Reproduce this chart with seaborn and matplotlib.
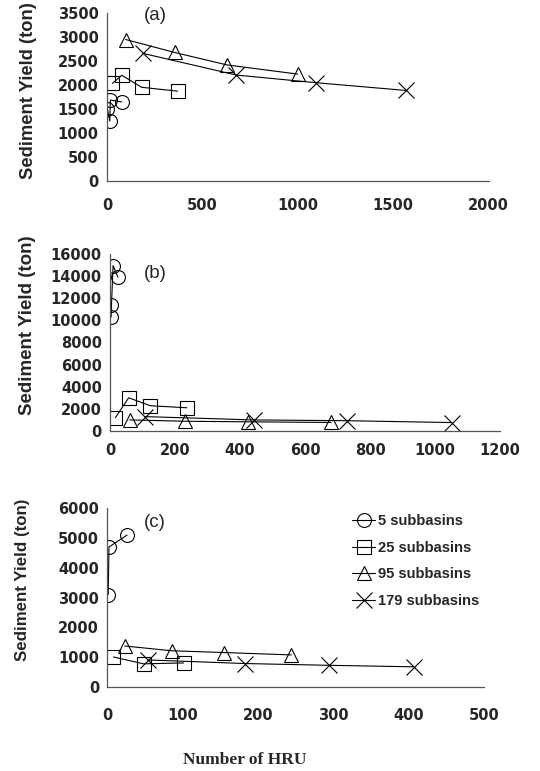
import matplotlib
matplotlib.use('Agg')
import matplotlib.pyplot as plt
import seaborn as sns

sns.set_style('white')
plt.rcParams['font.family'] = ['Liberation Sans', 'DejaVu Sans']

# Series names
series_names = ['5 subbasins', '25 subbasins', '95 subbasins', '179 subbasins']
markers = ['o', 's', '^', 'x']

# Panel (a)
a_x = [[3, 15, 18, 78], [28, 78, 182, 370], [98, 355, 630, 1000], [190, 678, 1097, 1565]]
a_y = [[1500, 1250, 1690, 1650], [2035, 2205, 1955, 1875], [2950, 2680, 2420, 2230], [2660, 2210, 2050, 1890]]

# Panel (b)
b_x = [[3, 4, 9, 24], [16, 57, 124, 236], [60, 231, 423, 680], [106, 442, 729, 1051]]
b_y = [[10300, 11400, 14950, 13900], [1200, 3000, 2280, 2100], [1000, 880, 830, 770], [1300, 1000, 930, 760]]

# Panel (c)
c_x = [[1, 2, 26], [8, 48, 101], [23, 85, 154, 244], [54, 183, 294, 406]]
c_y = [[3100, 4700, 5100], [1000, 770, 800], [1370, 1210, 1150, 1070], [900, 780, 720, 670]]

# label, x, y, axes rect, xmax, xstep, ymax, ystep, panel-label pos, ylabel size, xtick pad, ylabel coords
panels = [
    ('(a)', a_x, a_y, [0.198, 0.765, 0.707, 0.218], 2000, 500, 3500, 500, (0.097, 0.985), 13.2, 8, (-0.182, 0.542)),
    ('(b)', b_x, b_y, [0.204, 0.441, 0.722, 0.2296], 1200, 200, 16000, 2000, (0.087, 0.887), 13.5, 4.5, (-0.189, 0.599)),
    ('(c)', c_x, c_y, [0.199, 0.1093, 0.698, 0.2314], 500, 100, 6000, 1000, (0.097, 0.923), 12.2, 11, (-0.206, 0.598)),
]

fig = plt.figure(figsize=(5.4, 7.71), dpi=100)

for label, xs, ys, rect, xmax, xstep, ymax, ystep, lpos, ylsize, xpad, ylc in panels:
    ax = fig.add_axes(rect)
    for name, mk, x, y in zip(series_names, markers, xs, ys):
        ms = 10 if mk != 'x' else 11
        sns.lineplot(x=x, y=y, ax=ax, sort=False, color='black', lw=0.8,
                     marker=mk, markersize=ms, markerfacecolor='none',
                     markeredgecolor='black', markeredgewidth=0.8, label=name)
    ax.set_xlim(0, xmax)
    ax.set_ylim(0, ymax)
    ax.set_xticks(range(0, xmax + 1, xstep))
    ax.set_yticks(range(0, ymax + 1, ystep))
    for s in ['top', 'right']:
        ax.spines[s].set_visible(False)
    for s in ['left', 'bottom']:
        ax.spines[s].set_color('#555555')
        ax.spines[s].set_linewidth(0.9)
    ax.tick_params(axis='both', which='major', direction='out', length=4,
                   width=0.9, color='#555555')
    ax.tick_params(axis='x', pad=xpad)
    ax.tick_params(axis='y', pad=2)
    for t in ax.get_xticklabels() + ax.get_yticklabels():
        t.set_fontweight('bold')
        t.set_fontfamily(['DejaVu Sans'])
        t.set_fontsize(10.5)
    ax.set_ylabel('Sediment Yield (ton)', fontsize=ylsize, fontweight='bold')
    ax.yaxis.set_label_coords(ylc[0], ylc[1])
    ax.text(lpos[0], lpos[1], label, transform=ax.transAxes, fontsize=13.5,
            va='center', ha='left')
    if label == '(c)':
        ax.legend(loc='upper left', bbox_to_anchor=(0.613, 1.04), frameon=False,
                  prop={'weight': 'bold', 'size': 10.6}, handlelength=1.6,
                  handletextpad=0.15, labelspacing=0.85)
    else:
        ax.get_legend().remove()

fig.text(0.454, 0.0143, 'Number of HRU', ha='center', va='center',
         fontsize=12.5, fontweight='bold', family=['Liberation Serif', 'DejaVu Serif'])

fig.savefig('out.png', dpi=100)
